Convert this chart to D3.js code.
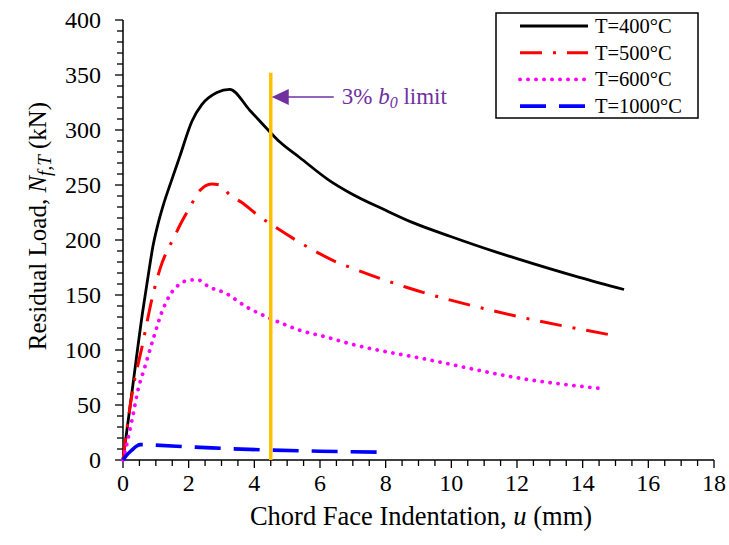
<!DOCTYPE html>
<html>
<head>
<meta charset="utf-8">
<script src="https://cdn.jsdelivr.net/npm/d3@7"></script>
<style>
  body { margin: 0; background: #fff; }
  svg { font-family: "Liberation Serif", "Times New Roman", serif; }
</style>
</head>
<body>
<div id="chart"></div>
<script>
// series (u in mm, load in kN)
const t400 = [[0,0],[0.3,68],[0.6,135],[0.8,174],[0.91,194],[1.07,215],[1.22,231],[1.5,256],[1.73,276],[2.1,308],[2.4,323],[2.86,334],[3.25,337],[3.86,318],[4.42,300],[4.78,289],[5.38,275],[6.29,254],[6.9,243],[8,227],[8.81,216],[10,203],[11.37,189],[12,183],[13.9,166],[15.26,155]];
const t500 = [[0,0],[0.06,15],[0.3,64],[0.58,103],[0.91,150],[1.13,174],[1.58,204],[1.76,215],[2.04,230],[2.34,245],[2.7,251],[2.95,250],[3.25,241],[3.62,234],[4.17,221],[4.47,215],[5.78,191],[6.5,180],[6.93,175],[8.63,157],[11.37,135],[14.8,114]];
const t600 = [[0,0],[0.12,15],[0.27,36],[0.46,64],[0.67,85],[0.91,109],[1.19,135],[1.43,150],[1.73,160],[2.0,163.5],[2.25,164],[2.64,157],[3.1,152],[3.77,139],[4.47,129],[5.38,118],[6.29,111],[6.75,107],[9.33,91],[12.37,73],[14.56,65]];
const t1000 = [[0,0],[0.1,4],[0.27,9],[0.42,12.7],[0.52,14],[0.91,13.6],[2,12],[2.7,11],[4.5,9],[6,8],[8,7]];

const seriesNames = ['T=400°C', 'T=500°C', 'T=600°C', 'T=1000°C'];
const seriesData = [t400, t500, t600, t1000];
const seriesColors = ['#000000', '#ff0000', '#ff00ff', '#0000ff'];
const seriesDash = [null, '22,11,3,11', '0.1,7.9', '26,13'];
const seriesWidth = [2.8, 3, 3.8, 3.6];

const xTicks = [0, 2, 4, 6, 8, 10, 12, 14, 16, 18];
const yTicks = [0, 50, 100, 150, 200, 250, 300, 350, 400];
const limitU = 4.5;   // 3% b0 limit
const limitTop = 352;
const arrowLoad = 330;

const width = 729, height = 545;
const x = d3.scaleLinear().domain([0, 18]).range([123, 714]);
const y = d3.scaleLinear().domain([0, 400]).range([460, 20]);

const svg = d3.select('#chart').append('svg')
  .attr('width', width)
  .attr('height', height);

// axes
const xAxis = svg.append('g').attr('transform', `translate(0,${y(0)})`);
xAxis.append('line').attr('x1', x(0) - 1).attr('x2', x(18)).attr('stroke', '#000').attr('stroke-width', 1.5);
xAxis.selectAll('.minor').data(d3.range(0, 18.01, 0.5)).enter().append('line')
  .attr('x1', d => x(d)).attr('x2', d => x(d))
  .attr('y1', 0).attr('y2', d => d % 2 === 0 ? 8 : 6)
  .attr('stroke', '#000').attr('stroke-width', 1.3);
xAxis.selectAll('text').data(xTicks).enter().append('text')
  .attr('x', d => x(d)).attr('y', 31)
  .attr('text-anchor', 'middle')
  .attr('font-size', 24)
  .text(d => d);

const yAxis = svg.append('g').attr('transform', `translate(${x(0)},0)`);
yAxis.append('line').attr('y1', y(0)).attr('y2', y(400)).attr('stroke', '#000').attr('stroke-width', 1.5);
yAxis.selectAll('.minor').data(d3.range(0, 401, 10)).enter().append('line')
  .attr('y1', d => y(d)).attr('y2', d => y(d))
  .attr('x1', 0).attr('x2', d => d % 50 === 0 ? -8 : -6)
  .attr('stroke', '#000').attr('stroke-width', 1.3);
yAxis.selectAll('text').data(yTicks).enter().append('text')
  .attr('x', -22).attr('y', d => y(d) + 8)
  .attr('text-anchor', 'end')
  .attr('font-size', 24)
  .text(d => d);

// axis titles
const xt = svg.append('text')
  .attr('x', 421).attr('y', 525)
  .attr('text-anchor', 'middle')
  .attr('font-size', 26.5);
xt.append('tspan').text('Chord Face Indentation, ');
xt.append('tspan').attr('font-style', 'italic').text('u');
xt.append('tspan').text(' (mm)');

const yt = svg.append('text')
  .attr('transform', 'translate(46,226) rotate(-90)')
  .attr('text-anchor', 'middle')
  .attr('font-size', 25);
yt.append('tspan').text('Residual Load, ');
yt.append('tspan').attr('font-style', 'italic').text('N');
yt.append('tspan').attr('font-style', 'italic').attr('font-size', 19).attr('dy', 5).text('f,T');
yt.append('tspan').attr('dy', -5).text(' (kN)');

// curves
const line = d3.line()
  .x(d => x(d[0]))
  .y(d => y(d[1]))
  .curve(d3.curveMonotoneX);

seriesData.forEach((s, i) => {
  svg.append('path')
    .datum(s)
    .attr('d', line)
    .attr('fill', 'none')
    .attr('stroke', seriesColors[i])
    .attr('stroke-width', seriesWidth[i])
    .attr('stroke-dasharray', seriesDash[i])
    .attr('stroke-linecap', i === 2 ? 'round' : 'butt')
    .attr('stroke-linejoin', 'round');
});

// 3% b0 limit line
svg.append('line')
  .attr('x1', x(limitU)).attr('x2', x(limitU))
  .attr('y1', y(0)).attr('y2', y(limitTop))
  .attr('stroke', '#ffc000').attr('stroke-width', 3.5);

const purple = '#7030a0';
const ax = x(limitU) + 1, ay = y(arrowLoad);
svg.append('line')
  .attr('x1', ax + 12).attr('x2', ax + 62)
  .attr('y1', ay).attr('y2', ay)
  .attr('stroke', purple).attr('stroke-width', 1.6);
svg.append('path')
  .attr('d', `M${ax},${ay}L${ax + 17},${ay - 8}L${ax + 17},${ay + 8}Z`)
  .attr('fill', purple);
const lt = svg.append('text')
  .attr('x', ax + 70).attr('y', ay + 7)
  .attr('font-size', 23)
  .attr('fill', purple);
lt.append('tspan').text('3% ');
lt.append('tspan').attr('font-style', 'italic').text('b');
lt.append('tspan').attr('font-style', 'italic').attr('font-size', 16).attr('dy', 4).text('0');
lt.append('tspan').attr('dy', -4).text(' limit');

// legend
const legend = svg.append('g');
legend.append('rect')
  .attr('x', 496).attr('y', 13).attr('width', 202).attr('height', 105)
  .attr('fill', '#fff').attr('stroke', '#000').attr('stroke-width', 1.5);
seriesNames.forEach((name, i) => {
  const ly = 26 + i * 26.7;
  legend.append('line')
    .attr('x1', 520).attr('x2', 588)
    .attr('y1', ly).attr('y2', ly)
    .attr('stroke', seriesColors[i])
    .attr('stroke-width', seriesWidth[i])
    .attr('stroke-dasharray', seriesDash[i])
    .attr('stroke-linecap', i === 2 ? 'round' : 'butt');
  legend.append('text')
    .attr('x', 595).attr('y', ly + 7)
    .attr('font-size', 20.5)
    .text(name);
});
</script>
</body>
</html>
